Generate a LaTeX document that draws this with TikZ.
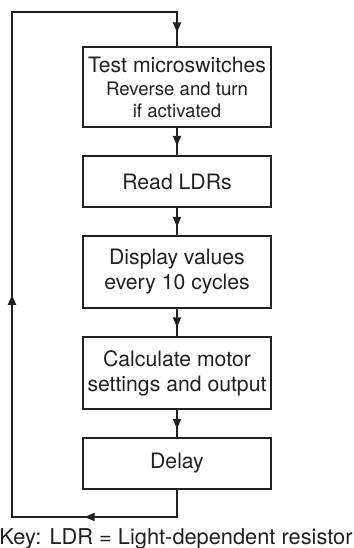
\documentclass[tikz,border=0pt]{standalone}
\usepackage{fontspec}
\setmainfont{TeX Gyre Heros}
\usetikzlibrary{arrows.meta,decorations.markings}
\definecolor{inkgray}{HTML}{231F20}

\tikzset{
  stepbox/.style={draw=inkgray, line width=0.85pt, minimum width=94pt,
    align=center, inner sep=0pt, text=inkgray,
    font=\fontsize{10.6}{12.5}\selectfont},
  flowline/.style={draw=inkgray, line width=0.85pt},
  midarrow/.style={postaction={decorate},
    decoration={markings, mark=at position #1 with
      {\arrow[inkgray]{Triangle[length=5pt,width=4pt]}}}},
}

\begin{document}
\begin{tikzpicture}[x=0.5pt, y=-0.5pt]
  \useasboundingbox (0,0) rectangle (354,548);
  % the five steps of the loop
  \node[stepbox, minimum height=40pt] (test) at (177,87)
    {Test microswitches\\[-1pt]
     \fontsize{9.3}{11}\selectfont Reverse and turn\\[-1.5pt]
     \fontsize{9.3}{11}\selectfont if activated};
  \node[stepbox, minimum height=25.5pt] (read) at (177,181.5) {Read LDRs};
  \node[stepbox, minimum height=36pt] (display) at (177,272)
    {Display values\\every 10 cycles};
  \node[stepbox, minimum height=36pt] (motor) at (177,373)
    {Calculate motor\\settings and output};
  \node[stepbox, minimum height=25.5pt] (delay) at (177,463.5) {Delay};

  \draw[flowline, midarrow=0.66] (test) -- (read);
  \draw[flowline, midarrow=0.7] (read) -- (display);
  \draw[flowline, midarrow=0.68] (display) -- (motor);
  \draw[flowline, midarrow=0.7] (motor) -- (delay);

  % return path
  \coordinate (lowleft) at (12,517);
  \coordinate (topleft) at (12,12);
  \draw[flowline] (delay.south) |- (lowleft) -- (topleft) -| (test.north);
  \draw[flowline, midarrow=0.56] (delay.south |- lowleft) -- (lowleft);
  \draw[flowline, midarrow=0.44] (lowleft) -- (topleft);
  \draw[flowline, midarrow=0.6] (test.north |- topleft) -- (test.north);

  \node[text=inkgray, anchor=base, inner sep=0pt,
    font=\fontsize{10.9}{12.5}\selectfont] (key) at (176,544)
    {Key: LDR = Light-dependent resistor};
\end{tikzpicture}
\end{document}
